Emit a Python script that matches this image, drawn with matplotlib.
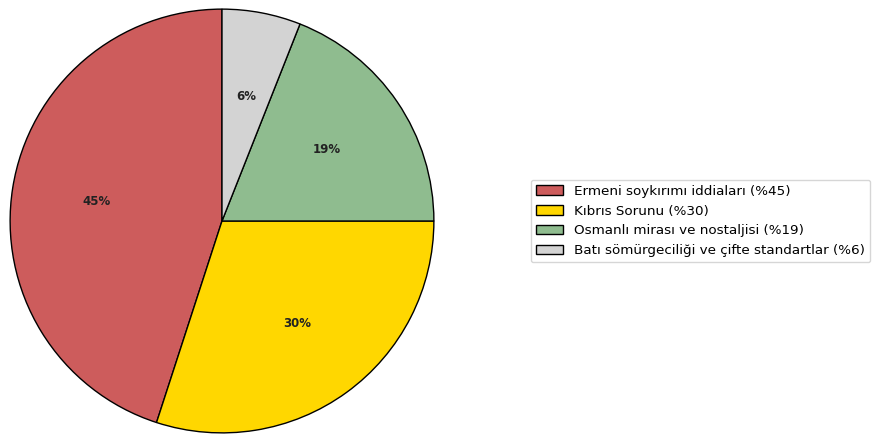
import matplotlib
matplotlib.use("Agg")
import matplotlib.pyplot as plt

# Share of topics
labels = [
    "Ermeni soykırımı iddiaları (%45)",
    "Kıbrıs Sorunu (%30)",
    "Osmanlı mirası ve nostaljisi (%19)",
    "Batı sömürgeciliği ve çifte standartlar (%6)",
]
values = [45, 30, 19, 6]
colors = ["#CD5C5C", "#FFD700", "#8FBC8F", "#D3D3D3"]

fig = plt.figure(figsize=(8.72, 4.42), dpi=100)
ax = fig.add_axes([8 / 872, 7 / 442, 428 / 872, 428 / 442])

wedges, texts, autotexts = ax.pie(
    values,
    colors=colors,
    startangle=90,
    autopct="%1.0f%%",
    pctdistance=0.6,
    wedgeprops=dict(edgecolor="black", linewidth=1),
    textprops=dict(fontsize=8.5, fontweight="bold", color="#222222"),
)
ax.set_xlim(-1.01, 1.01)
ax.set_ylim(-1.01, 1.01)
ax.set_aspect("equal")

fig.legend(
    wedges,
    labels,
    loc="center left",
    bbox_to_anchor=(524 / 872, 221 / 442),
    fontsize=9.7,
    frameon=True,
)

fig.savefig("out.png", dpi=100)
